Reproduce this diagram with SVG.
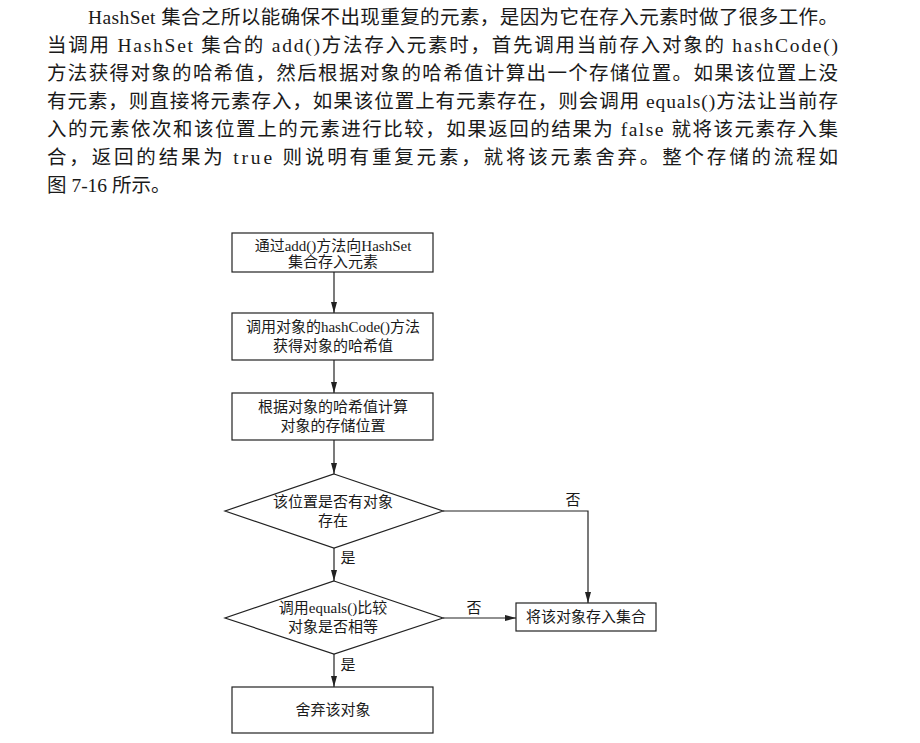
<svg xmlns="http://www.w3.org/2000/svg" width="920" height="743" viewBox="0 0 920 743">
<style>
.p{font-family:"Liberation Serif","Noto Sans CJK SC",serif;font-size:19.5px;fill:#1a1a1a}
.t{font-family:"Liberation Serif","Noto Sans CJK SC",serif;font-size:15px;fill:#1a1a1a;text-anchor:middle}
.s{fill:#fff;stroke:#222;stroke-width:1.2}
.c{fill:none;stroke:#222;stroke-width:1.2}
</style>
<defs>
<marker id="a" markerWidth="12" markerHeight="8" refX="11" refY="4" orient="auto" markerUnits="userSpaceOnUse">
<path d="M0,1 L11,4 L0,7 Z" fill="#222"/>
</marker>
</defs>
<rect width="920" height="743" fill="#fff"/>
<g id="paragraph">
<text class="p" x="88" y="24" textLength="750" lengthAdjust="spacing">HashSet 集合之所以能确保不出现重复的元素，是因为它在存入元素时做了很多工作。</text>
<text class="p" x="47" y="52" textLength="791" lengthAdjust="spacing">当调用 HashSet 集合的 add()方法存入元素时，首先调用当前存入对象的 hashCode()</text>
<text class="p" x="47" y="80" textLength="791" lengthAdjust="spacing">方法获得对象的哈希值，然后根据对象的哈希值计算出一个存储位置。如果该位置上没</text>
<text class="p" x="47" y="108" textLength="791" lengthAdjust="spacing">有元素，则直接将元素存入，如果该位置上有元素存在，则会调用 equals()方法让当前存</text>
<text class="p" x="47" y="136" textLength="791" lengthAdjust="spacing">入的元素依次和该位置上的元素进行比较，如果返回的结果为 false 就将该元素存入集</text>
<text class="p" x="47" y="164" textLength="791" lengthAdjust="spacing">合，返回的结果为 true 则说明有重复元素，就将该元素舍弃。整个存储的流程如</text>
<text class="p" x="47" y="192">图 7-16 所示。</text>
</g>
<g id="connectors">
<line class="c" x1="334" y1="272" x2="334" y2="313" marker-end="url(#a)"/>
<line class="c" x1="334" y1="360" x2="334" y2="393" marker-end="url(#a)"/>
<line class="c" x1="334" y1="440" x2="334" y2="474" marker-end="url(#a)"/>
<line class="c" x1="334" y1="548" x2="334" y2="581" marker-end="url(#a)"/>
<line class="c" x1="334" y1="654" x2="334" y2="687" marker-end="url(#a)"/>
<polyline class="c" points="443,511 588,511 588,603" marker-end="url(#a)"/>
<line class="c" x1="443" y1="618" x2="516" y2="618" marker-end="url(#a)"/>
<text class="t" x="348" y="563">是</text>
<text class="t" x="348" y="670">是</text>
<text class="t" x="573" y="505">否</text>
<text class="t" x="474" y="613">否</text>
</g>
<g id="n1">
<rect class="s" x="232" y="233" width="201" height="39"/>
<text class="t" x="333" y="251">通过add()方法向HashSet</text>
<text class="t" x="333" y="267">集合存入元素</text>
</g>
<g id="n2">
<rect class="s" x="232" y="313" width="201" height="47"/>
<text class="t" x="333" y="332">调用对象的hashCode()方法</text>
<text class="t" x="333" y="351">获得对象的哈希值</text>
</g>
<g id="n3">
<rect class="s" x="232" y="393" width="201" height="47"/>
<text class="t" x="333" y="412">根据对象的哈希值计算</text>
<text class="t" x="333" y="431">对象的存储位置</text>
</g>
<g id="d1">
<polygon class="s" points="334,474 443,511 334,548 225,511"/>
<text class="t" x="333" y="507">该位置是否有对象</text>
<text class="t" x="333" y="526">存在</text>
</g>
<g id="d2">
<polygon class="s" points="334,581 443,618 334,654 225,618"/>
<text class="t" x="333" y="613">调用equals()比较</text>
<text class="t" x="333" y="632">对象是否相等</text>
</g>
<g id="n4">
<rect class="s" x="516" y="603" width="140" height="28"/>
<text class="t" x="586" y="622">将该对象存入集合</text>
</g>
<g id="n5">
<rect class="s" x="232" y="687" width="201" height="46"/>
<text class="t" x="333" y="715">舍弃该对象</text>
</g>
</svg>
